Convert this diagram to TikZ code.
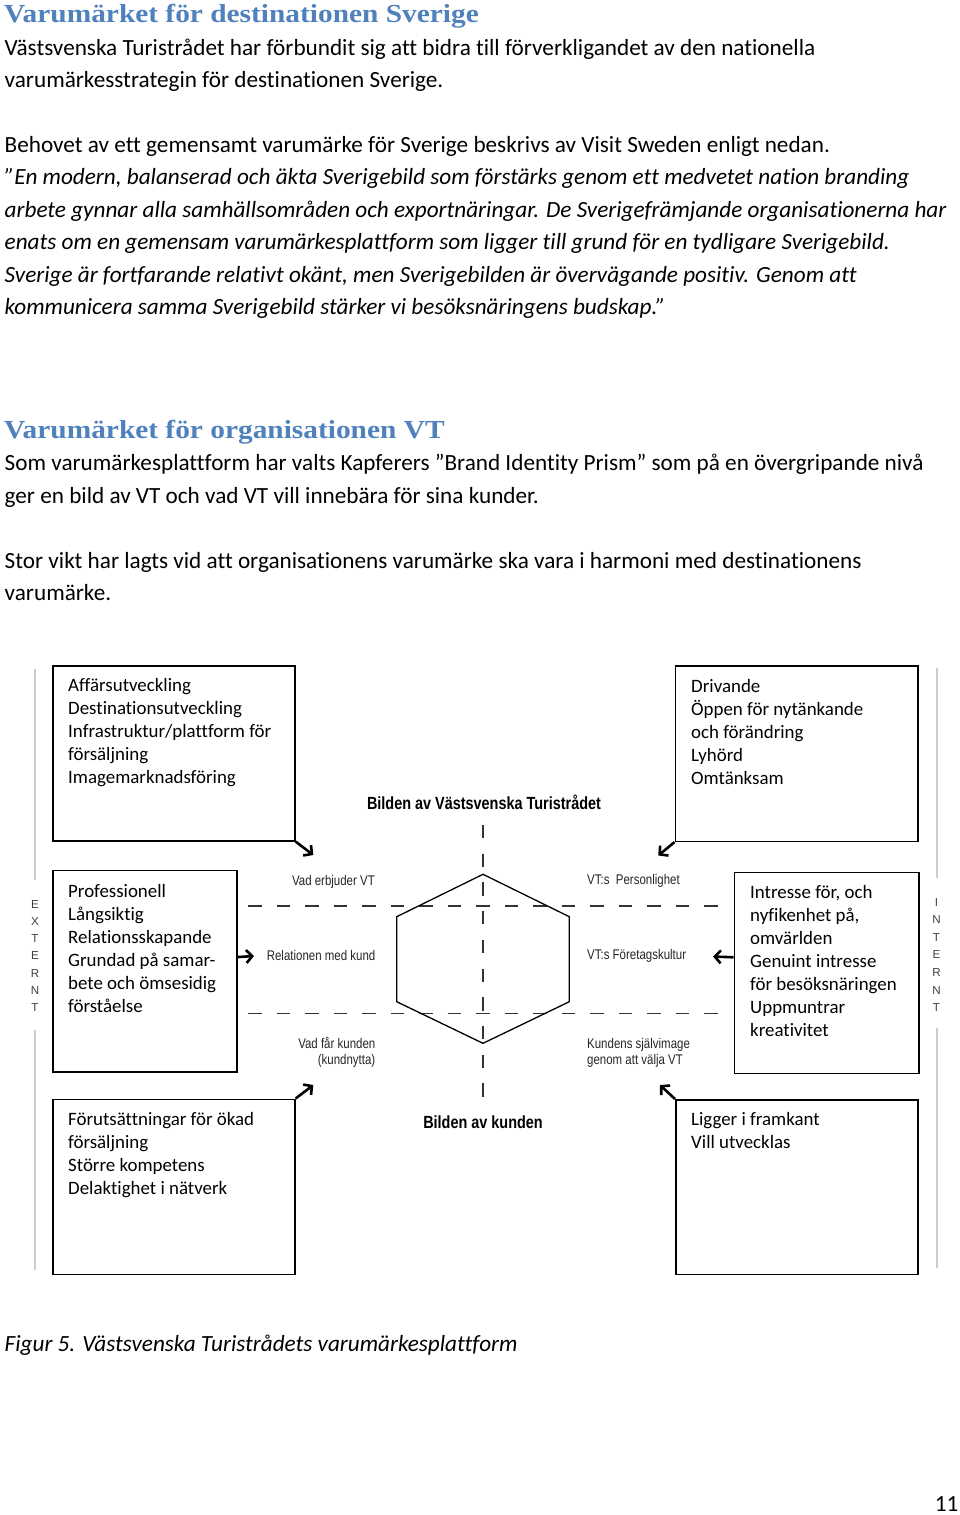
\documentclass[tikz,border=0pt]{standalone}
\usepackage{fontspec}
\setmainfont{Carlito}[Ligatures=NoCommon]
\newfontfamily\headfont{Liberation Serif}[FakeStretch=1.13]
\newfontfamily\arialfont{Liberation Sans}
\newfontfamily\narrowfont{Liberation Sans}[FakeStretch=0.82]
\usetikzlibrary{arrows.meta}
\definecolor{headblue}{HTML}{4F81BD}
\begin{document}
\begin{tikzpicture}[x=1pt,y=-1pt,
  txt/.style={anchor=base west, inner sep=0pt, font=\fontsize{23.2}{28}\selectfont},
  itxt/.style={anchor=base west, inner sep=0pt, font=\fontsize{23.2}{28}\selectfont\itshape},
  head/.style={anchor=base west, inner sep=0pt, font=\headfont\bfseries\fontsize{26}{30}\selectfont, text=headblue},
  btxt/.style={anchor=base west, inner sep=0pt, font=\fontsize{18.9}{23}\selectfont},
  frame/.style={draw=black, line width=1.6pt, inner sep=0pt, anchor=north west, minimum width=#1},
  lbl/.style={inner sep=0pt, font=\narrowfont\fontsize{14}{16}\selectfont, text=black!85},
  blbl/.style={inner sep=0pt, anchor=base, font=\narrowfont\bfseries\fontsize{17.6}{20}\selectfont},
  side/.style={inner sep=0pt, anchor=base, font=\arialfont\fontsize{11.6}{13}\selectfont, text=black!75},
  greyline/.style={draw=black!20, line width=1.5pt},
  dashline/.style={draw=black!80, line width=1.2pt, dash pattern=on 13.3pt off 15.2pt},
  vdashline/.style={draw=black!80, line width=1.2pt, dash pattern=on 13.3pt off 15.4pt},
  arr/.style={line width=2.6pt, -{Straight Barb[length=6pt,width=13pt]}}
]
\fill[white] (0,0) rectangle (960,1515);
\useasboundingbox (0,0) rectangle (960,1515);

% ---- text section 1
\node[head] (h1) at (4,22) {Varumärket för destinationen Sverige};
\node[txt] (p1) at (4.5,55) {Västsvenska Turistrådet har förbundit sig att bidra till förverkligandet av den nationella};
\node[txt] (p2) at (4.5,87.5) {varumärkesstrategin för destinationen Sverige.};
\node[txt] (p3) at (4.5,152) {Behovet av ett gemensamt varumärke för Sverige beskrivs av Visit Sweden enligt nedan.};
\node[itxt] (p4) at (4.5,184.5) {”En modern, balanserad och äkta Sverigebild som förstärks genom ett medvetet nation branding};
\node[itxt] (p5) at (4.5,217) {arbete gynnar alla samhällsområden och exportnäringar. De Sverigefrämjande organisationerna har};
\node[itxt] (p6) at (4.5,249.5) {enats om en gemensam varumärkesplattform som ligger till grund för en tydligare Sverigebild.};
\node[itxt] (p7) at (4.5,282) {Sverige är fortfarande relativt okänt, men Sverigebilden är övervägande positiv. Genom att};
\node[itxt] (p8) at (4.5,314.5) {kommunicera samma Sverigebild stärker vi besöksnäringens budskap.”};

% ---- text section 2
\node[head] (h2) at (4,438) {Varumärket för organisationen VT};
\node[txt] (q1) at (4.5,470.5) {Som varumärkesplattform har valts Kapferers ”Brand Identity Prism” som på en övergripande nivå};
\node[txt] (q2) at (4.5,503) {ger en bild av VT och vad VT vill innebära för sina kunder.};
\node[txt] (q3) at (4.5,568) {Stor vikt har lagts vid att organisationens varumärke ska vara i harmoni med destinationens};
\node[txt] (q4) at (4.5,600.5) {varumärke.};

% ---- grey side lines
\draw[greyline] (35,669) -- (35,880);
\draw[greyline] (35,1030) -- (35,1270);
\draw[greyline] (937,668) -- (937,878);
\draw[greyline] (937,1028) -- (937,1268);
\foreach \c [count=\i from 0] in {E,X,T,E,R,N,T}
  \node[side] (ext\i) at (35,908+17.3*\i) {\c};
\foreach \c [count=\i from 0] in {I,N,T,E,R,N,T}
  \node[side] (int\i) at (936.5,906+17.6*\i) {\c};

% ---- prism
\draw[dashline] (248.3,906) -- (718,906);
\draw[dashline] (248.3,1013.3) -- (718,1013.3);
\draw[vdashline] (483,825) -- (483,1098);
\draw[black, line width=1.3pt] (483,874.3) -- (569.3,916.7) -- (569.3,1001.7) -- (483,1043.3)
   -- (396.7,1001.7) -- (396.7,916.7) -- cycle;

\node[blbl] (tvt) at (484,809) {Bilden av Västsvenska Turistrådet};
\node[blbl] (tkund) at (483,1128) {Bilden av kunden};

\node[lbl, anchor=base east] (l1) at (375,885) {Vad erbjuder VT};
\node[lbl, anchor=base east] (l2) at (375.5,960) {Relationen med kund};
\node[lbl, anchor=base east] (l3) at (375.5,1048) {Vad får kunden};
\node[lbl, anchor=base east] (l4) at (375.5,1064) {(kundnytta)};
\node[lbl, anchor=base west] (r1) at (587,884.5) {VT:s\ \ Personlighet};
\node[lbl, anchor=base west] (r2) at (587,959.5) {VT:s Företagskultur};
\node[lbl, anchor=base west] (r3) at (587,1048) {Kundens självimage};
\node[lbl, anchor=base west] (r4) at (587,1064) {genom att välja VT};

% ---- boxes
\node[frame=242pt, minimum height=175pt] (tl) at (52,665) {};
\node[frame=242.5pt, minimum height=175.5pt] (tr) at (674.5,665) {};
\node[frame=184pt, minimum height=201.5pt] (ml) at (52,869.5) {};
\node[frame=184.5pt, minimum height=201pt] (mr) at (733.5,871.5) {};
\node[frame=242pt, minimum height=175pt] (bl) at (52,1098.5) {};
\node[frame=242pt, minimum height=174.5pt] (br) at (675,1099) {};

\foreach \t [count=\i from 0] in {Affärsutveckling,Destinationsutveckling,{Infrastruktur/plattform för},försäljning,Imagemarknadsföring}
  \node[btxt] (tlt\i) at (68,691.5+23*\i) {\t};
\foreach \t [count=\i from 0] in {Drivande,Öppen för nytänkande,och förändring,Lyhörd,Omtänksam}
  \node[btxt] (trt\i) at (691,692+23*\i) {\t};
\foreach \t [count=\i from 0] in {Professionell,Långsiktig,Relationsskapande,Grundad på samar-,bete och ömsesidig,förståelse}
  \node[btxt] (mlt\i) at (68,897+23*\i) {\t};
\foreach \t [count=\i from 0] in {{Intresse för, och},{nyfikenhet på,},omvärlden,Genuint intresse,för besöksnäringen,Uppmuntrar,kreativitet}
  \node[btxt] (mrt\i) at (750,898+23*\i) {\t};
\foreach \t [count=\i from 0] in {Förutsättningar för ökad,försäljning,Större kompetens,Delaktighet i nätverk}
  \node[btxt] (blt\i) at (68,1125+23*\i) {\t};
\foreach \t [count=\i from 0] in {Ligger i framkant,Vill utvecklas}
  \node[btxt] (brt\i) at (691,1125+23*\i) {\t};

% ---- arrows
\coordinate (atl) at (313.3,855);
\coordinate (atr) at (658.3,855.5);
\coordinate (aml) at (254,956);
\coordinate (amr) at (713,956.5);
\coordinate (abl) at (313.3,1085);
\coordinate (abr) at (660,1085);
\draw[arr] (tl.south east) -- (atl);
\draw[arr] (tr.south west) -- (atr);
\draw[arr] ([yshift=14pt]ml.east) -- (aml);
\draw[arr] ([yshift=15.5pt]mr.west) -- (amr);
\draw[arr] (bl.north east) -- (abl);
\draw[arr] (br.north west) -- (abr);

% ---- caption
\node[itxt] (cap) at (4.5,1351) {Figur 5. Västsvenska Turistrådets varumärkesplattform};
\node[anchor=base east, inner sep=0pt, font=\fontsize{23.2}{28}\selectfont] (pg) at (958.5,1511) {11};
\end{tikzpicture}
\end{document}
